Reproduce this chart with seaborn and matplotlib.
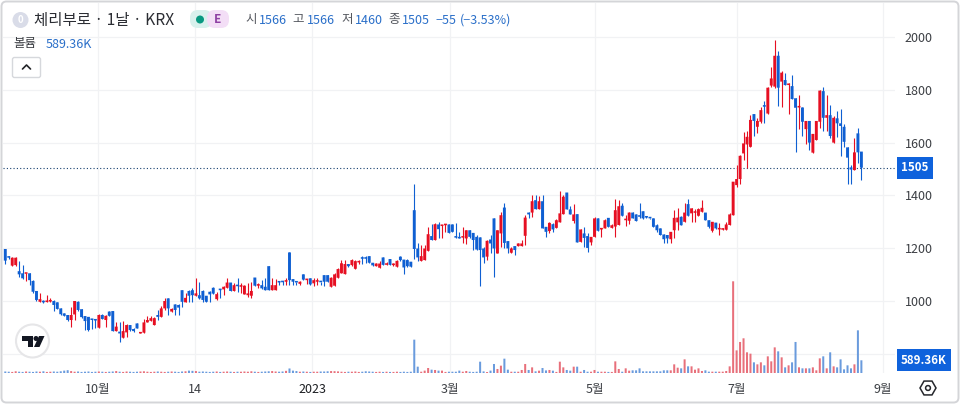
import numpy as np
import pandas as pd
import matplotlib
matplotlib.use("Agg")
import matplotlib.pyplot as plt
import matplotlib.patches as mpatches
from matplotlib.transforms import Affine2D
import seaborn as sns

opens = [
    1197, 1170, 1134, 1136, 1113, 1105, 1103, 1105, 1076, 1038,
    997, 1000, 996, 998, 1000, 995, 972, 953, 947, 928,
    949, 997, 969, 943, 940, 932, 930, 899, 947, 928,
    960, 962, 886, 884, 861, 881, 909, 894, 915, 877,
    880, 919, 925, 909, 947, 940, 972, 1010, 960, 987,
    985, 1041, 995, 1038, 1041, 1020, 1022, 1038, 1020, 1035,
    1050, 1007, 1044, 1044, 1050, 1070, 1038, 1060, 1054, 1025,
    1022, 1020, 1089, 1058, 1060, 1054, 1132, 1041, 1041, 1075,
    1075, 1073, 1184, 1083, 1073, 1065, 1101, 1079, 1086, 1067,
    1073, 1073, 1098, 1098, 1054, 1058, 1088, 1105,
    1102, 1140, 1136, 1122, 1146, 1165, 1163, 1170, 1145, 1132,
    1126, 1165, 1137, 1159, 1136, 1130, 1168, 1157, 1155, 1149,
    1344, 1199, 1152, 1155, 1190, 1246, 1231, 1290, 1284, 1287,
    1290, 1290, 1243, 1241, 1240, 1237, 1268, 1258, 1243, 1241,
    1199, 1168, 1233, 1313, 1180, 1256, 1354, 1227, 1183,
    1208, 1208, 1208, 1247, 1335, 1335, 1382, 1348, 1378, 1281,
    1265, 1291, 1277, 1298, 1329, 1411, 1347, 1303, 1329, 1224,
    1256, 1246, 1222, 1243, 1313, 1271, 1275, 1315, 1277, 1282,
    1288, 1361, 1306, 1304, 1335, 1328, 1325, 1340, 1319, 1316,
    1313, 1287, 1275, 1252, 1250, 1234, 1268, 1298, 1319, 1300,
    1367, 1332, 1334, 1323, 1338, 1335, 1306, 1266, 1297, 1271,
    1270, 1270, 1288,
    1325, 1439, 1462, 1559, 1593, 1584, 1708, 1660, 1679, 1742,
    1710, 1816, 1812, 1929, 1831, 1837, 1818, 1814, 1768, 1733,
    1733, 1651, 1682, 1562, 1610, 1679, 1795, 1694, 1704, 1600,
    1692, 1673, 1660, 1582, 1506, 1496, 1635, 1566,
]
highs = [
    1197, 1172, 1166, 1168, 1151, 1136, 1106, 1105, 1078, 1038,
    1029, 1002, 1023, 1010, 1002, 995, 975, 953, 947, 976,
    1000, 999, 969, 943, 940, 932, 932, 950, 950, 946,
    962, 962, 919, 919, 924, 913, 911, 899, 915, 881,
    930, 943, 945, 940, 966, 980, 1010, 1010, 972, 990,
    987, 1041, 1030, 1040, 1048, 1086, 1073, 1040, 1020, 1037,
    1052, 1035, 1046, 1056, 1086, 1070, 1070, 1086, 1067, 1062,
    1067, 1073, 1089, 1070, 1080, 1086, 1132, 1086, 1085, 1076,
    1076, 1086, 1186, 1083, 1073, 1075, 1101, 1085, 1088, 1086,
    1086, 1073, 1100, 1098, 1090, 1105, 1124, 1155,
    1155, 1140, 1160, 1155, 1156, 1170, 1170, 1170, 1145, 1144,
    1150, 1165, 1146, 1159, 1143, 1156, 1172, 1157, 1158, 1149,
    1443, 1218, 1212, 1212, 1281, 1291, 1295, 1300, 1288, 1290,
    1291, 1290, 1294, 1262, 1281, 1270, 1270, 1258, 1250, 1243,
    1205, 1231, 1250, 1313, 1270, 1338, 1370, 1227, 1205,
    1210, 1220, 1230, 1325, 1338, 1401, 1401, 1397, 1401, 1281,
    1300, 1296, 1312, 1416, 1400, 1411, 1360, 1366, 1329, 1271,
    1281, 1256, 1243, 1318, 1315, 1275, 1310, 1315, 1290, 1388,
    1382, 1370, 1325, 1339, 1336, 1330, 1370, 1342, 1322, 1316,
    1313, 1290, 1275, 1252, 1250, 1262, 1344, 1351, 1322, 1373,
    1386, 1353, 1348, 1351, 1382, 1335, 1306, 1300, 1297, 1296,
    1278, 1300, 1332,
    1452, 1515, 1552, 1641, 1644, 1705, 1710, 1692, 1736, 1759,
    1811, 1888, 1989, 1947, 1871, 1862, 1824, 1856, 1768, 1780,
    1733, 1682, 1682, 1633, 1682, 1799, 1812, 1780, 1742, 1700,
    1720, 1727, 1669, 1582, 1517, 1616, 1654, 1566,
]
lows = [
    1140, 1160, 1134, 1132, 1092, 1083, 1076, 1062, 1032, 1000,
    997, 993, 995, 997, 963, 968, 948, 942, 925, 903,
    928, 964, 935, 890, 887, 894, 896, 899, 930, 903,
    944, 886, 886, 846, 861, 864, 888, 881, 896, 877,
    879, 919, 925, 909, 928, 940, 965, 947, 958, 947,
    947, 978, 995, 995, 997, 1020, 1008, 997, 995, 995,
    1025, 1005, 1010, 1022, 1048, 1038, 1038, 1035, 1029, 1025,
    1016, 1010, 1056, 1050, 1044, 1041, 1041, 1041, 1041, 1060,
    1062, 1060, 1062, 1060, 1060, 1062, 1081, 1063, 1060, 1058,
    1060, 1060, 1058, 1073, 1054, 1058, 1088, 1105,
    1102, 1130, 1133, 1122, 1140, 1142, 1145, 1145, 1133, 1132,
    1124, 1137, 1135, 1135, 1133, 1130, 1153, 1102, 1130, 1130,
    1161, 1151, 1152, 1155, 1190, 1231, 1231, 1237, 1237, 1262,
    1258, 1262, 1237, 1237, 1218, 1216, 1240, 1195, 1195, 1056,
    1145, 1155, 1180, 1092, 1180, 1205, 1199, 1183, 1183,
    1176, 1208, 1208, 1214, 1315, 1319, 1348, 1348, 1275, 1243,
    1256, 1262, 1277, 1298, 1329, 1347, 1328, 1296, 1222, 1224,
    1205, 1186, 1214, 1243, 1266, 1243, 1275, 1281, 1275, 1243,
    1288, 1323, 1285, 1290, 1313, 1303, 1313, 1310, 1313, 1309,
    1281, 1262, 1250, 1218, 1218, 1218, 1237, 1268, 1287, 1300,
    1323, 1300, 1298, 1323, 1338, 1306, 1275, 1262, 1273, 1250,
    1268, 1270, 1288,
    1325, 1433, 1445, 1534, 1505, 1584, 1626, 1638, 1673, 1673,
    1710, 1809, 1808, 1740, 1736, 1818, 1708, 1765, 1565, 1651,
    1625, 1595, 1572, 1562, 1610, 1656, 1644, 1644, 1616, 1600,
    1622, 1550, 1585, 1445, 1445, 1496, 1521, 1460,
]
closes = [
    1153, 1164, 1164, 1164, 1101, 1086, 1106, 1079, 1035, 1004,
    1007, 995, 1000, 1002, 985, 970, 950, 944, 928, 947,
    1000, 966, 939, 924, 890, 928, 926, 947, 932, 944,
    944, 886, 903, 877, 886, 909, 890, 886, 896, 881,
    919, 928, 935, 935, 940, 972, 1000, 972, 970, 966,
    975, 997, 1012, 1020, 1022, 1029, 1010, 1004, 997, 1025,
    1028, 1026, 1041, 1054, 1070, 1038, 1060, 1056, 1058, 1058,
    1029, 1038, 1058, 1063, 1048, 1041, 1041, 1060, 1060, 1070,
    1071, 1079, 1079, 1073, 1070, 1073, 1081, 1083, 1063, 1079,
    1077, 1071, 1073, 1073, 1088, 1101, 1121, 1143,
    1140, 1132, 1155, 1151, 1152, 1160, 1160, 1145, 1135, 1142,
    1142, 1137, 1142, 1137, 1140, 1152, 1155, 1127, 1132, 1130,
    1197, 1165, 1170, 1199, 1253, 1231, 1291, 1272, 1286, 1290,
    1258, 1262, 1240, 1237, 1243, 1268, 1243, 1231, 1195, 1193,
    1165, 1228, 1218, 1199, 1268, 1325, 1220, 1199, 1199,
    1193, 1218, 1218, 1316, 1328, 1378, 1348, 1378, 1275, 1262,
    1296, 1271, 1306, 1332, 1395, 1347, 1328, 1328, 1222, 1271,
    1239, 1201, 1243, 1313, 1266, 1275, 1306, 1281, 1287, 1344,
    1359, 1323, 1312, 1335, 1313, 1303, 1319, 1313, 1316, 1313,
    1281, 1268, 1250, 1234, 1237, 1262, 1315, 1316, 1287, 1335,
    1323, 1351, 1338, 1348, 1353, 1306, 1281, 1300, 1275, 1275,
    1274, 1290, 1328,
    1452, 1462, 1550, 1597, 1622, 1686, 1682, 1682, 1723, 1736,
    1808, 1843, 1929, 1808, 1865, 1818, 1821, 1765, 1732, 1736,
    1679, 1682, 1600, 1633, 1682, 1797, 1694, 1704, 1625, 1694,
    1673, 1663, 1603, 1543, 1498, 1563, 1563, 1505,
]
volumes = [
    70, 60, 50, 80, 60, 50, 70, 60, 50, 70,
    60, 80, 50, 60, 70, 60, 80, 110, 130, 90,
    60, 70, 50, 60, 70, 50, 60, 70, 60, 50,
    60, 70, 90, 60, 50, 70, 60, 50, 60, 70,
    80, 60, 50, 60, 70, 60, 50, 60, 70, 60,
    50, 70, 80, 110, 100, 90, 60, 70, 60, 50,
    60, 70, 50, 60, 70, 60, 50, 60, 60, 70,
    60, 80, 60, 50, 60, 70, 80, 90, 70, 60,
    70, 100, 210, 110, 90, 60, 70, 60, 50, 60,
    60, 70, 70, 80, 90, 85, 75, 60, 50, 60,
    60, 70, 50, 60, 80, 70, 60, 50, 60, 50,
    60, 50, 50, 60, 50, 60, 50, 60,
    1547, 294, 60, 110, 232, 155, 140, 110, 110, 50,
    60, 60, 60, 110, 60, 93, 60, 50, 60, 525,
    75, 45, 110, 418, 186, 340, 665, 155, 60, 60,
    60, 140, 418, 140, 262, 77, 108, 232, 120, 140,
    108, 50, 525, 262, 140, 108, 294, 294, 60, 140,
    60, 60, 140, 60, 60, 60, 50, 50, 540, 186,
    60, 217, 108,
    124, 124, 216, 77, 77, 77, 77, 77, 77, 124,
    124, 124, 402, 247, 216, 634, 309, 309, 155, 216,
    93, 124, 62, 62, 62, 62, 62, 93, 309, 4255,
    1050, 1440, 1610, 960, 897, 495, 402, 495, 356, 773,
    541, 1190, 1005, 727, 263, 356, 495, 1440, 263, 216,
    216, 216, 263, 124, 680, 773, 216, 960, 309, 263,
    634, 170, 356, 216, 402, 1980, 589.36,
]
price_ticks = [800, 1000, 1200, 1400, 1600, 1800, 2000]
date_ticks = [26.7, 54.7, 88.5, 128.3, 170.1, 211, 253.2]
date_labels = ["10월", "14", "2023", "3월", "5월", "7월", "9월"]

RED = "#e60f22"
BLUE = "#0f5fd2"
LABEL_BLUE = "#2a6fc9"

sns.set_theme(style="white")
plt.rcParams["font.family"] = ["Noto Sans CJK KR", "DejaVu Sans"]

df = pd.DataFrame({"open": opens, "high": highs, "low": lows, "close": closes, "volume": volumes})
df["day"] = np.arange(len(df))
df["side"] = np.where(df["close"] >= df["open"], "up", "down")

fig = plt.figure(figsize=(9.6, 4.04), dpi=100, facecolor="white")
px = Affine2D().scale(1, -1).translate(0, 404)

ax = fig.add_axes([3 / 960, 31 / 404, 892 / 960, 370 / 404])
vol_ax = ax.twinx()

colors = df["side"].map({"up": RED, "down": BLUE})
ax.vlines(df["day"], df["low"], df["high"], color=colors, lw=0.8, zorder=3)
ax.bar(df["day"], (df["close"] - df["open"]).abs().clip(lower=6),
       bottom=df[["open", "close"]].min(axis=1), width=0.84, color=colors, linewidth=0, snap=False, zorder=4)
ax.axhline(closes[-1], color="#17406f", ls=(0, (1, 2)), lw=0.8, zorder=2)

sns.barplot(data=df, x="day", y="volume", hue="side", palette={"up": "#e8707b", "down": "#6a9bdd"},
            native_scale=True, dodge=False, legend=False, width=0.58, saturation=1, errorbar=None,
            linewidth=0, snap=False, ax=vol_ax)
vol_ax.set_ylim(0, 370 * 46.4)
vol_ax.set_ylabel("")
vol_ax.set_xlabel("")
vol_ax.tick_params(right=False, labelright=False, bottom=False, labelbottom=False)

ax.set_xlim(-0.66, 256.7)
ax.set_ylim(727.3, 2128.8)
ax.set_xticks(date_ticks, date_labels)
ax.set_yticks(price_ticks)
ax.yaxis.tick_right()
ax.grid(True, color="#f1f2f4", lw=0.9)
ax.set_axisbelow(True)
ax.tick_params(axis="both", length=0, labelsize=9, labelcolor="#3c3f44")
ax.tick_params(axis="y", pad=7)
ax.tick_params(axis="x", pad=7)
ax.get_xticklabels()[2].set_fontweight("medium")
ax.get_xticklabels()[2].set_color("#1c1e22")
ax.set_xlabel("")
for spine in list(ax.spines.values()) + list(vol_ax.spines.values()):
    spine.set_visible(False)

# last value tags on the price scale
tag = dict(boxstyle="square,pad=0.38", fc="#0f62dc", ec="none")
vol_ax.annotate(f"{closes[-1]}", xy=(1, ax.transData.transform((0, closes[-1]))[1]),
                xycoords=("axes fraction", "figure pixels"), xytext=(6, 0), textcoords="offset pixels",
                color="white", fontsize=8.3, fontweight="bold", va="center", ha="left",
                bbox=tag, annotation_clip=False, zorder=10)
vol_ax.annotate(f"{volumes[-1]:.2f}K", xy=(1, volumes[-1]), xycoords=vol_ax.get_yaxis_transform(),
                xytext=(6, 0), textcoords="offset pixels",
                color="white", fontsize=8.3, fontweight="bold", va="center", ha="left",
                bbox=tag, annotation_clip=False, zorder=10)


def label(x, y, s, color="#3c3f44", size=9, **kw):
    fig.text(x, y, s, transform=px, color=color, fontsize=size, va="center", ha="left", **kw)


# header
fig.add_artist(mpatches.Circle((20.5, 20), 8, fc="#d9dce8", ec="none", transform=px))
fig.text(20.5, 20, "0", transform=px, color="white", fontsize=7, fontweight="bold", va="center", ha="center")
label(34, 20, "체리부로 · 1날 · KRX", color="#2b2d33", size=11.2)
fig.add_artist(mpatches.FancyBboxPatch((190, 10), 22, 18, boxstyle="round,pad=0,rounding_size=8",
                                       fc="#d8f1ed", ec="none", transform=px))
fig.add_artist(mpatches.FancyBboxPatch((207, 10), 22, 18, boxstyle="round,pad=0,rounding_size=8",
                                       fc="#f3def6", ec="none", transform=px))
fig.add_artist(mpatches.Circle((200, 19.5), 4, fc="#089981", ec="none", transform=px))
fig.text(218, 19.5, "E", transform=px, color="#8e3fa3", fontsize=8.5, fontweight="bold", va="center", ha="center")

for x, s in [(245.5, "시"), (292, "고"), (341, "저"), (388, "종")]:
    label(x, 20, s, color="#55585f", size=9)
for x, s in [(259, "1566"), (307, "1566"), (355, "1460"), (402, "1505"), (435, "−55"), (460, "(−3.53%)")]:
    label(x, 20, s, color=LABEL_BLUE, size=9)
label(13, 44, "볼륨", color="#3c3f44", size=9)
label(46, 44, "589.36K", color=LABEL_BLUE, size=9)

fig.add_artist(mpatches.FancyBboxPatch((12.5, 57.5), 28, 20, boxstyle="round,pad=0,rounding_size=2",
                                       fc="white", ec="#d6d8dc", lw=1, transform=px))
fig.add_artist(plt.Line2D([22.5, 26.5, 30.5], [69, 65, 69], color="#222428", lw=1.2, transform=px))

# watermark logo
fig.add_artist(mpatches.Circle((32.5, 341), 16.5, fc="white", ec="#e6e6e8", lw=1.5, transform=px))
fig.add_artist(mpatches.Polygon([(22, 336), (33, 336), (33, 347), (28, 347), (28, 341), (22, 341)],
                                fc="#131722", ec="none", transform=px))
fig.add_artist(mpatches.Circle((36, 338.5), 2.5, fc="#131722", ec="none", transform=px))
fig.add_artist(mpatches.Polygon([(39, 336), (44.5, 336), (39.5, 347), (34, 347)],
                                fc="#131722", ec="none", transform=px))

# settings button
fig.add_artist(mpatches.RegularPolygon((928, 388), 6, radius=8, orientation=np.pi / 2, fc="none",
                                       ec="#25272c", lw=1.1, transform=px))
fig.add_artist(mpatches.Circle((928, 388), 2.4, fc="none", ec="#25272c", lw=1.1, transform=px))

# card border
fig.add_artist(mpatches.FancyBboxPatch((1.5, 1.5), 957, 401, boxstyle="round,pad=0,rounding_size=5",
                                       fc="none", ec="#d4d5d8", lw=1.4, transform=px))

fig.savefig("out.png", dpi=100)
